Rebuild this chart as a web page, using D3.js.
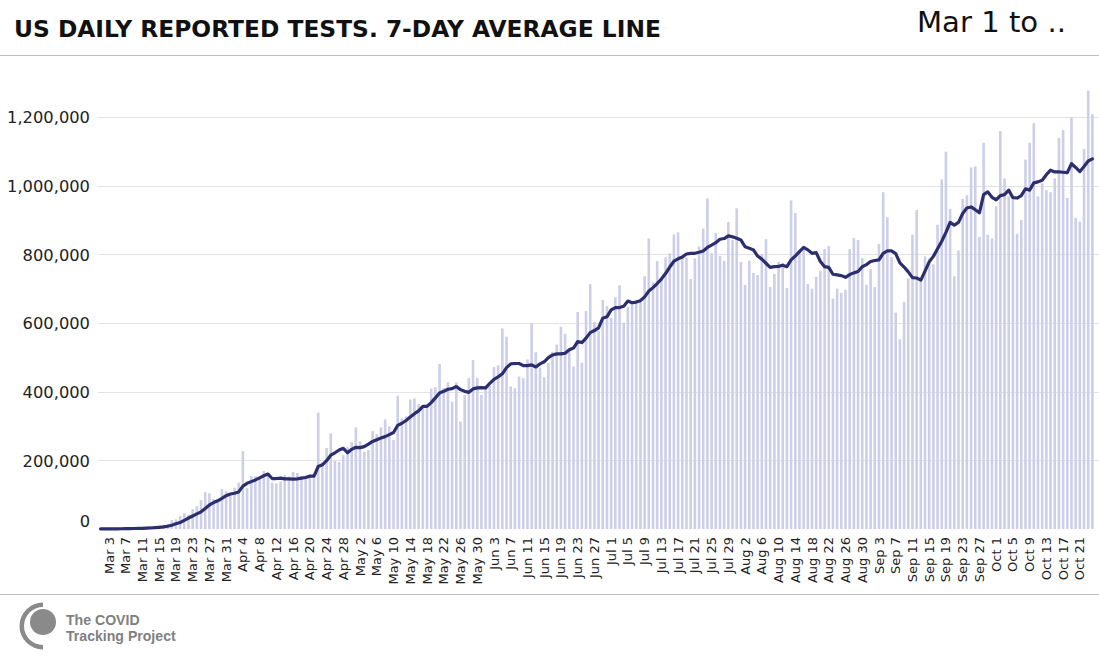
<!DOCTYPE html>
<html>
<head>
<meta charset="utf-8">
<script src="https://cdn.jsdelivr.net/npm/d3@7"></script>
<style>
  html, body { margin: 0; padding: 0; background: #fff; }
  svg { display: block; }
</style>
</head>
<body>
<svg id="chart" width="1099" height="659"></svg>
<script>
// ---------------- DATA ----------------
const titleText = "US DAILY REPORTED TESTS. 7-DAY AVERAGE LINE";
const rangeText = "Mar 1 to ..";
const firstDay = "2020-03-01";
const lastDay = "2020-10-24";

// daily reported tests (bars), Mar 1 .. Oct 24
const dailyTests = [
  300, 400, 500, 900, 800, 1100, 1500, 1300, 2100, 2600, 3400, 4300, 4100, 7200, 9500,
  12000, 15000, 26000, 28000, 38000, 46000, 41000, 58000, 66000, 84000,
  107000, 104000, 87000, 87000, 116000, 111000, 103000, 120000, 135000, 227000,
  120000, 154000, 154000, 146000, 169000, 164000, 135000, 133000, 138000, 157000,
  153000, 166000, 163000, 153000,
  155000, 150000, 160000, 339000, 194000, 236000, 279000, 198000, 195000, 215000,
  238000, 253000, 296000, 256000, 225000, 230000, 285000, 276000, 296000, 319000,
  299000, 259000, 388000, 322000, 328000, 377000, 380000, 364000, 355000, 362000,
  409000, 414000, 481000, 411000, 427000, 371000, 427000, 313000, 390000, 440000,
  492000, 440000, 391000, 414000, 416000, 472000, 477000, 584000,
  560000, 415000, 410000, 444000, 439000, 494000, 600000, 515000, 470000, 442000,
  484000, 516000, 537000, 589000, 569000, 523000, 473000,
  632000, 484000, 635000, 713000, 603000, 577000, 667000, 649000, 615000, 675000,
  710000, 601000, 647000, 657000, 667000, 671000, 736000, 846000, 719000, 780000,
  729000, 791000, 803000, 858000, 864000, 792000, 791000, 728000, 788000, 823000,
  875000,
  963000, 803000, 862000, 795000, 781000, 894000, 842000, 934000, 778000, 711000,
  781000, 746000, 740000, 801000, 844000, 705000, 743000, 778000, 775000, 702000,
  957000, 920000, 813000, 818000, 714000, 700000, 734000, 752000, 815000, 824000,
  671000, 700000, 688000, 697000, 815000, 847000, 842000, 789000, 711000, 757000,
  705000, 830000, 981000, 908000, 792000, 630000, 552000, 662000,
  730000, 857000, 929000, 725000, 794000, 788000, 771000, 886000, 1018000, 1099000,
  932000, 736000, 811000, 961000, 972000, 1053000, 1056000, 851000, 1125000, 857000,
  846000, 940000, 1159000, 1021000, 969000, 960000, 860000, 900000, 1076000, 1125000,
  1182000, 969000, 1007000, 987000, 981000, 1021000, 1139000, 1162000, 964000, 1199000,
  906000, 895000, 1107000, 1277000, 1208000
];

// 7-day average (line), Mar 1 .. Oct 24
const sevenDayAverage = [
  200, 300, 400, 500, 600, 800, 1000, 1100, 1400, 1700, 2100, 2600, 3000, 4000, 5000,
  6000, 8000, 11000, 15000, 19000, 25000, 32000, 38000, 44000, 50000,
  60000, 70000, 77000, 82000, 89000, 97000, 102000, 104000, 108000, 125000,
  133000, 138000, 143000, 149000, 155000, 160000, 147000, 147000, 148000, 146000,
  146000, 145000, 146000, 148000, 150000,
  154000, 154000, 182000, 187000, 199000, 215000, 222000, 230000, 235000, 222000,
  232000, 238000, 237000, 240000, 247000, 255000, 260000, 265000, 269000, 275000,
  281000, 302000, 308000, 316000, 326000, 336000, 344000, 357000, 357000, 368000,
  382000, 396000, 401000, 407000, 409000, 415000, 406000, 401000, 398000, 408000,
  411000, 412000, 411000, 424000, 436000,
  443000, 452000, 470000, 481000, 482000, 482000, 476000, 476000, 478000, 472000,
  481000, 487000, 499000, 507000, 510000, 510000, 512000, 522000, 527000, 546000,
  543000, 556000, 572000, 578000, 586000, 614000, 618000, 638000, 645000, 645000,
  649000, 664000, 659000, 661000, 665000, 676000, 693000, 703000, 715000, 728000,
  744000, 763000, 780000, 787000, 792000, 801000, 803000, 803000, 806000, 810000,
  820000, 827000, 834000, 844000, 846000, 854000, 851000, 847000, 842000, 822000,
  818000, 813000, 795000, 786000, 774000, 762000, 764000, 765000, 768000, 764000,
  784000, 795000, 808000, 820000, 813000, 803000, 805000, 779000, 764000, 762000,
  742000, 740000, 738000, 733000, 741000, 746000, 750000, 764000, 770000, 779000,
  782000, 784000, 803000, 810000, 810000,
  802000, 775000, 763000, 749000, 732000, 731000, 725000, 751000, 778000, 794000,
  816000, 838000, 864000, 893000, 885000, 893000, 919000, 935000, 938000, 930000,
  921000, 974000, 982000, 966000, 959000, 971000, 974000, 987000, 965000, 964000,
  971000, 991000, 987000, 1008000, 1011000, 1016000, 1032000, 1045000, 1040000, 1040000,
  1039000, 1038000, 1064000, 1053000, 1041000, 1056000, 1072000, 1078000
];

const xTickLabels = [
  "Mar 3","Mar 7","Mar 11","Mar 15","Mar 19","Mar 23","Mar 27","Mar 31",
  "Apr 4","Apr 8","Apr 12","Apr 16","Apr 20","Apr 24","Apr 28",
  "May 2","May 6","May 10","May 14","May 18","May 22","May 26","May 30",
  "Jun 3","Jun 7","Jun 11","Jun 15","Jun 19","Jun 23","Jun 27",
  "Jul 1","Jul 5","Jul 9","Jul 13","Jul 17","Jul 21","Jul 25","Jul 29",
  "Aug 2","Aug 6","Aug 10","Aug 14","Aug 18","Aug 22","Aug 26","Aug 30",
  "Sep 3","Sep 7","Sep 11","Sep 15","Sep 19","Sep 23","Sep 27",
  "Oct 1","Oct 5","Oct 9","Oct 13","Oct 17","Oct 21"
];
const yTickValues = [0, 200000, 400000, 600000, 800000, 1000000, 1200000];
const logoLines = ["The COVID", "Tracking Project"];

// ---------------- CHART ----------------
const parse = d3.timeParse("%Y-%m-%d");
const fmt = d3.timeFormat("%b %-d");
const categories = d3.timeDay.range(parse(firstDay), d3.timeDay.offset(parse(lastDay), 1)).map(fmt);
const rows = categories.map((c, i) => ({ c, tests: dailyTests[i], avg: sevenDayAverage[i] }));

const svg = d3.select("#chart");
const FONT = "DejaVu Sans, Verdana, sans-serif";

function fitWidth(sel, target) {
  const w = sel.node().getComputedTextLength();
  const fs = parseFloat(sel.attr("font-size"));
  sel.attr("font-size", (fs * target / w).toFixed(2));
}

// Header
const title = svg.append("text")
  .attr("x", 14).attr("y", 37)
  .attr("font-family", FONT).attr("font-weight", "bold")
  .attr("font-size", 22).attr("fill", "#111")
  .text(titleText);
fitWidth(title, 647);

const rng = svg.append("text")
  .attr("x", 917).attr("y", 32)
  .attr("font-family", FONT)
  .attr("font-size", 27).attr("fill", "#111")
  .text(rangeText);
fitWidth(rng, 149);

svg.append("line").attr("x1", 0).attr("x2", 1099).attr("y1", 55.5).attr("y2", 55.5)
  .attr("stroke", "#bdbdbd").attr("stroke-width", 1);
svg.append("line").attr("x1", 0).attr("x2", 1099).attr("y1", 594.5).attr("y2", 594.5)
  .attr("stroke", "#bdbdbd").attr("stroke-width", 1);

// Scales
const x = d3.scaleBand().domain(categories).range([98.5, 1094.5]).paddingInner(0.38).paddingOuter(0.19);
const y = d3.scaleLinear().domain([0, 1200000]).range([529, 117]);
const cx = d => x(d) + x.bandwidth() / 2;

// Gridlines
const grid = svg.append("g");
grid.selectAll("line").data(yTickValues.filter(v => v > 0)).join("line")
  .attr("x1", 98).attr("x2", 1099)
  .attr("y1", d => Math.round(y(d)) + 0.5).attr("y2", d => Math.round(y(d)) + 0.5)
  .attr("stroke", "#e3e3e3").attr("stroke-width", 1);

// Y axis labels
const yAxis = d3.axisLeft(y).tickValues(yTickValues).tickFormat(d3.format(",")).tickSize(0).tickPadding(0);
const yg = svg.append("g").attr("transform", "translate(90,0)").call(yAxis);
yg.select(".domain").remove();
yg.selectAll("text")
  .attr("font-family", FONT).attr("font-size", 16).attr("fill", "#222")
  .attr("dy", "0.35em")
  .attr("y", d => d === 0 ? -8 : 0);
const maxLab = yg.selectAll("text").filter(d => d === 1200000);
const w0 = maxLab.node().getComputedTextLength();
yg.selectAll("text").attr("font-size", (16 * 83 / w0).toFixed(2));

// Bars
svg.append("g").selectAll("rect").data(rows).join("rect")
  .attr("x", d => x(d.c))
  .attr("width", x.bandwidth())
  .attr("y", d => y(d.tests))
  .attr("height", d => y(0) - y(d.tests))
  .attr("fill", "#cdcee8");

// 7-day average line
const line = d3.line().x(d => cx(d.c)).y(d => y(d.avg));
svg.append("path").datum(rows)
  .attr("d", line)
  .attr("fill", "none")
  .attr("stroke", "#2c2e6d")
  .attr("stroke-width", 3.2)
  .attr("stroke-linejoin", "round")
  .attr("stroke-linecap", "round");

// X axis labels
const xAxis = d3.axisBottom(x).tickValues(xTickLabels).tickSize(0).tickPadding(0);
const xg = svg.append("g").attr("transform", "translate(0,537)").call(xAxis);
xg.select(".domain").remove();
xg.selectAll(".tick text")
  .attr("font-family", FONT).attr("font-size", 13).attr("fill", "#222")
  .attr("transform", "rotate(-90)")
  .attr("text-anchor", "end")
  .attr("x", 0).attr("y", 0)
  .attr("dy", "0.35em");

// Footer logo
const logo = svg.append("g").attr("transform", "translate(43,626)");
logo.append("path")
  .attr("d", d3.arc()({ innerRadius: 19, outerRadius: 23.5, startAngle: Math.PI * 1.0, endAngle: Math.PI * 2.0 }))
  .attr("fill", "#8a8a8a");
logo.append("circle").attr("cx", 0).attr("cy", -4).attr("r", 13).attr("fill", "#8a8a8a");

const logoTexts = svg.append("g").selectAll("text").data(logoLines).join("text")
  .attr("x", 66).attr("y", (d, i) => i === 0 ? 624.5 : 640.5)
  .attr("font-family", "Liberation Sans, Arial, sans-serif").attr("font-weight", "bold")
  .attr("font-size", 14).attr("fill", "#808080")
  .text(d => d);
const t2w = logoTexts.filter((d, i) => i === 1).node().getComputedTextLength();
logoTexts.attr("font-size", Math.min(14 * 123 / t2w, 14.1).toFixed(2));
</script>
</body>
</html>
